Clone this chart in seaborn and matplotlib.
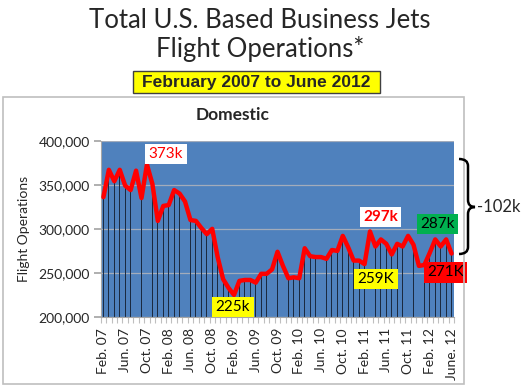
import numpy as np
import matplotlib
matplotlib.use("Agg")
import matplotlib.pyplot as plt
import seaborn as sns
from matplotlib.patches import Rectangle, PathPatch
from matplotlib.path import Path

# monthly domestic flight operations, Feb 2007 .. June 2012 (thousands)
ops_k = [336, 367, 354, 367, 349, 344, 366, 335, 373, 351,
         309, 326, 327, 344, 340, 331, 310, 309, 301, 294,
         300, 268, 243, 233, 225, 241, 242, 242, 239, 249,
         249, 254, 274, 258, 244, 245, 244, 278, 269, 268,
         268, 266, 276, 275, 292, 279, 264, 264, 260, 297,
         280, 288, 283, 271, 283, 280, 292, 282, 258, 259,
         273, 288, 280, 288, 272]
ops = np.array(ops_k) * 1000
month_idx = np.arange(len(ops))

tick_labels = ["Feb. 07", "Jun. 07", "Oct. 07", "Feb. 08", "Jun. 08", "Oct. 08",
               "Feb. 09", "Jun. 09", "Oct. 09", "Feb. 10", "Jun. 10", "Oct. 10",
               "Feb. 11", "Jun. 11", "Oct. 11", "Feb. 12", "June. 12"]
tick_pos = list(range(0, len(ops), 4))

y_ticks = [200000, 250000, 300000, 350000, 400000]

sns.set_theme(style="white")
plt.rcParams["font.family"] = ["Lato", "DejaVu Sans"]

W, H = 525, 388
fig = plt.figure(figsize=(W / 100, H / 100), dpi=100)


def px(x, y):
    # pixel coords (y down) -> figure fraction
    return x / W, 1 - y / H


# chart frame
fig.patches.append(Rectangle(px(3, 384), 461 / W, 287 / H, transform=fig.transFigure,
                             fill=False, edgecolor="#BFBFBF", linewidth=1.2))

ax = fig.add_axes([100.7 / W, (H - 317) / H, 353.6 / W, 176.3 / H])
ax.set_facecolor("#4F81BD")

sns.barplot(x=month_idx, y=ops, color="#1B2A40", width=0.16, linewidth=0,
            saturation=1, ax=ax, zorder=2)
sns.lineplot(x=month_idx, y=ops, color="#FF0000", linewidth=3.2, ax=ax,
             zorder=3, legend=False)

ax.set_xlim(-0.5, len(ops) - 0.5)
ax.set_ylim(200000, 400000)
ax.set_yticks(y_ticks)
ax.set_yticklabels([f"{v:,}" for v in y_ticks], fontsize=10)
ax.set_xticks(tick_pos)
ax.set_xticklabels(tick_labels, rotation=90, fontsize=10)
ax.set_xticks(np.arange(-0.5, len(ops)), minor=True)
ax.tick_params(axis="x", which="major", length=0, pad=8)
ax.tick_params(axis="x", which="minor", length=4, color="#BFBFBF", width=0.8, bottom=True)
ax.tick_params(axis="y", length=5, color="#A6A6A6", pad=3, left=True)
ax.grid(axis="y", color="#A3ACBB", linewidth=0.9, zorder=1)
ax.set_axisbelow(True)
ax.set_xlabel("")
ax.set_ylabel("")
for s in ["top", "right"]:
    ax.spines[s].set_visible(False)
for s in ["left", "bottom"]:
    ax.spines[s].set_color("#A6A6A6")
    ax.spines[s].set_linewidth(0.8)

fig.text(*px(24, 229), "Flight Operations", rotation=90, fontsize=10,
         ha="center", va="center")

# titles
fig.text(*px(260, 28), "Total U.S. Based Business Jets", fontsize=18.5,
         ha="center", va="baseline")
fig.text(*px(260, 57), "Flight Operations*", fontsize=18.5,
         ha="center", va="baseline")
fig.patches.append(Rectangle(px(133, 93), 247 / W, 22 / H, transform=fig.transFigure,
                             facecolor="#FFFF00", edgecolor="#404040", linewidth=1))
fig.text(*px(256.5, 82.5), "February 2007 to June 2012", fontsize=12.5,
         fontweight="bold", family="Liberation Sans", ha="center", va="center")
fig.text(*px(233, 115), "Domestic", fontsize=12.5, fontweight="bold",
         ha="center", va="center")

# value call-outs
callouts = [
    (11.5, 385000, "373k", "#FF0000", "white", "normal"),
    (23.8, 211500, "225k", "black", "#FFFF00", "normal"),
    (50.9, 313500, "297k", "#FF0000", "white", "bold"),
    (50.1, 243000, "259K", "black", "#FFFF00", "normal"),
    (61.4, 305500, "287k", "black", "#00B050", "normal"),
    (62.9, 250800, "271K", "black", "#FF0000", "normal"),
]
for xi, yv, txt, fc, bg, fw in callouts:
    ax.text(xi, yv, txt, color=fc, fontsize=11, fontweight=fw, ha="center",
            va="center", zorder=5, clip_on=False,
            bbox=dict(boxstyle="square,pad=0.22", facecolor=bg, edgecolor="none"))

# brace showing the drop
pts = [(459, 159), (468, 159), (468, 166), (468, 200), (468, 207), (475, 207),
       (468, 207), (468, 214), (468, 247), (468, 254), (459, 254)]
codes = [Path.MOVETO, Path.CURVE3, Path.CURVE3, Path.LINETO, Path.CURVE3, Path.CURVE3,
         Path.CURVE3, Path.CURVE3, Path.LINETO, Path.CURVE3, Path.CURVE3]
brace = Path([px(x, y) for x, y in pts], codes)
fig.patches.append(PathPatch(brace, transform=fig.transFigure, fill=False,
                             edgecolor="black", linewidth=1.8))
fig.text(*px(477, 207), "-102k", fontsize=12, ha="left", va="center")

fig.savefig("out.png", dpi=100)
